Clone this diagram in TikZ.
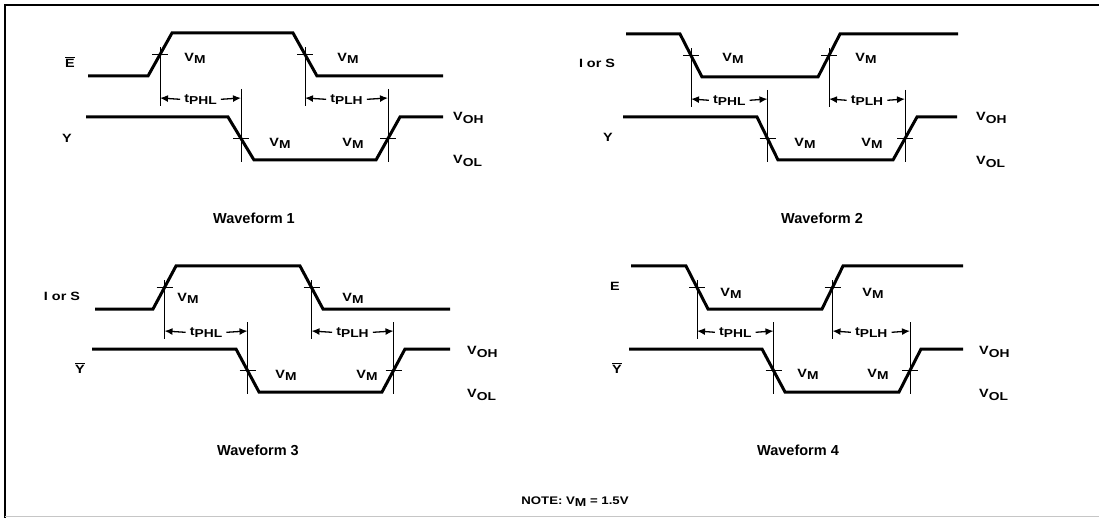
\documentclass[tikz,border=0pt]{standalone}
\usepackage{fontspec}
\setmainfont{Liberation Sans}
\newfontfamily\lblfont[FakeStretch=1.2]{Liberation Sans}
\usetikzlibrary{arrows.meta,calc}

\newcommand\lsub[1]{\raisebox{-0.35ex}{\fontsize{11.5}{12}\selectfont #1}}
\newcommand\vsub[1]{V\lsub{#1}}

\tikzset{
  wave/.style={line width=3pt, line join=miter},
  guide/.style={line width=0.9pt},
  dimarrow/.style={line width=1.3pt, -{Latex[length=8pt,width=7pt]}, shorten <=3pt},
  lbl/.style={font=\lblfont\bfseries\fontsize{12}{14}\selectfont, inner sep=1pt},
  sig/.style={font=\lblfont\bfseries\fontsize{12}{14}\selectfont, inner sep=1pt},
  ttl/.style={font=\bfseries\fontsize{14.5}{17}\selectfont, inner sep=1pt},
}

% #1 prefix, #2 start level, #3 other level, #4..#9 x positions
\newcommand\wavef[9]{%
  \draw[wave] (#4,#2) -- (#5,#2) coordinate (#1a) -- (#6,#3) coordinate (#1b)
    -- (#7,#3) coordinate (#1c) -- (#8,#2) coordinate (#1d) -- (#9,#2);
  \coordinate (#1x1) at ($(#1a)!0.5!(#1b)$);
  \coordinate (#1x2) at ($(#1c)!0.5!(#1d)$);
}
% crossing mark on the input, with guide down to the dimension line
\newcommand\upmark[2]{%
  \coordinate (#1-d) at (0,#2);
  \coordinate (#1-a) at (#1 |- #1-d);
  \draw[guide] ($(#1)+(-8,0)$) -- ($(#1)+(8,0)$);
  \draw[guide] ($(#1)+(0,-7)$) -- ($(#1-a)+(0,8)$);
}
% crossing mark on the output, with guide up to the dimension line
\newcommand\lowmark[3]{%
  \coordinate (#1-d) at (0,#2);
  \coordinate (#1-a) at (#1 |- #1-d);
  \coordinate (#1-e) at (0,#3);
  \coordinate (#1-b) at (#1 |- #1-e);
  \draw[guide] ($(#1)+(-8,0)$) -- ($(#1)+(8,0)$);
  \draw[guide] ($(#1-a)+(0,-9)$) -- ($(#1-b)+(0,2)$);
}
% dimension label with two arrows
\newcommand\dimlbl[4]{%
  \node[lbl] (#4) at ($($(#1-a)!0.5!(#2-a)$)+(0,1.5)$) {#3};
  \draw[dimarrow] (#4.west) -- (#1-a);
  \draw[dimarrow] (#4.east) -- (#2-a);
}

\begin{document}
\begin{tikzpicture}[x={(1pt,0pt)}, y={(0pt,-1pt)}]
\useasboundingbox (0,0) rectangle (1099,518);
\fill[white] (0,0) rectangle (1099,518);

% frame
\draw[line width=2pt] (5,518) -- (5,5) -- (1099,5);
\draw[line width=1.5pt, gray!45] (5,516.5) -- (1099,516.5);

% ---------------- Waveform 1 ----------------
\wavef{A}{76}{33}{88}{148}{172}{293}{317}{443}
\wavef{B}{117}{160}{86}{228}{254}{376}{400}{443}
\upmark{Ax1}{98}\upmark{Ax2}{98}
\lowmark{Bx1}{98}{160}\lowmark{Bx2}{98}{160}
\dimlbl{Ax1}{Bx1}{t\lsub{PHL}}{d1a}
\dimlbl{Ax2}{Bx2}{t\lsub{PLH}}{d1b}
\node[sig] (s1a) at (70,62) {$\overline{\hbox{E}}$};
\node[sig] (s1b) at (67,138) {Y};
\node[lbl] (v1a) at (195,58) {\vsub{M}};
\node[lbl] (v1b) at (348,58) {\vsub{M}};
\node[lbl] (v1c) at (280,143) {\vsub{M}};
\node[lbl] (v1d) at (353,143) {\vsub{M}};
\node[lbl, anchor=west] (o1h) at (452,118) {\vsub{OH}};
\node[lbl, anchor=west] (o1l) at (452,161) {\vsub{OL}};
\node[ttl] (t1) at (254,218) {Waveform 1};

% ---------------- Waveform 2 ----------------
\wavef{C}{34}{77}{626}{680}{702}{818}{840}{958}
\wavef{D}{117}{160}{623}{757}{778}{893}{917}{957}
\upmark{Cx1}{99}\upmark{Cx2}{99}
\lowmark{Dx1}{99}{160}\lowmark{Dx2}{99}{160}
\dimlbl{Cx1}{Dx1}{t\lsub{PHL}}{d2a}
\dimlbl{Cx2}{Dx2}{t\lsub{PLH}}{d2b}
\node[sig] (s2a) at (597,63) {I or S};
\node[sig] (s2b) at (608,137) {Y};
\node[lbl] (v2a) at (733,58) {\vsub{M}};
\node[lbl] (v2b) at (866,58) {\vsub{M}};
\node[lbl] (v2c) at (805,143) {\vsub{M}};
\node[lbl] (v2d) at (872,143) {\vsub{M}};
\node[lbl, anchor=west] (o2h) at (975,118) {\vsub{OH}};
\node[lbl, anchor=west] (o2l) at (975,162) {\vsub{OL}};
\node[ttl] (t2) at (822,218) {Waveform 2};

% ---------------- Waveform 3 ----------------
\wavef{E}{309}{266}{95}{153}{176}{300}{323}{450}
\wavef{F}{349}{392}{92}{236}{259}{382}{405}{450}
\upmark{Ex1}{331}\upmark{Ex2}{331}
\lowmark{Fx1}{331}{392}\lowmark{Fx2}{331}{392}
\dimlbl{Ex1}{Fx1}{t\lsub{PHL}}{d3a}
\dimlbl{Ex2}{Fx2}{t\lsub{PLH}}{d3b}
\node[sig] (s3a) at (62,296) {I or S};
\node[sig] (s3b) at (80,368) {$\overline{\hbox{Y}}$};
\node[lbl] (v3a) at (188,298) {\vsub{M}};
\node[lbl] (v3b) at (353,298) {\vsub{M}};
\node[lbl] (v3c) at (286,375) {\vsub{M}};
\node[lbl] (v3d) at (367,375) {\vsub{M}};
\node[lbl, anchor=west] (o3h) at (466,352) {\vsub{OH}};
\node[lbl, anchor=west] (o3l) at (466,395) {\vsub{OL}};
\node[ttl] (t3) at (258,450) {Waveform 3};

% ---------------- Waveform 4 ----------------
\wavef{G}{266}{309}{631}{686}{708}{822}{843}{963}
\wavef{H}{349}{392}{629}{762}{785}{899}{921}{963}
\upmark{Gx1}{331}\upmark{Gx2}{331}
\lowmark{Hx1}{331}{392}\lowmark{Hx2}{331}{392}
\dimlbl{Gx1}{Hx1}{t\lsub{PHL}}{d4a}
\dimlbl{Gx2}{Hx2}{t\lsub{PLH}}{d4b}
\node[sig] (s4a) at (615,286) {E};
\node[sig] (s4b) at (617,368) {$\overline{\hbox{Y}}$};
\node[lbl] (v4a) at (731,293) {\vsub{M}};
\node[lbl] (v4b) at (873,293) {\vsub{M}};
\node[lbl] (v4c) at (808,374) {\vsub{M}};
\node[lbl] (v4d) at (878,374) {\vsub{M}};
\node[lbl, anchor=west] (o4h) at (978,352) {\vsub{OH}};
\node[lbl, anchor=west] (o4l) at (978,395) {\vsub{OL}};
\node[ttl] (t4) at (798,450) {Waveform 4};

% note
\node[lbl, font=\lblfont\bfseries\fontsize{11}{13}\selectfont] (note) at (575,502) {NOTE: \vsub{M} = 1.5V};
\end{tikzpicture}
\end{document}
